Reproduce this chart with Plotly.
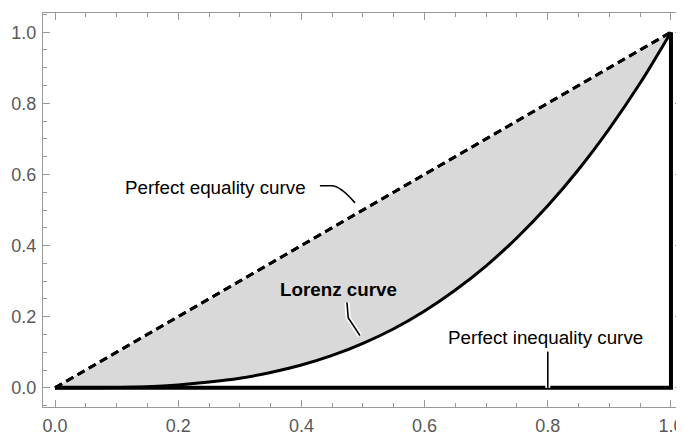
import plotly.graph_objects as go

# values
lorenz_x = [0, 0.05, 0.1, 0.15, 0.2, 0.25, 0.3, 0.35, 0.4, 0.45, 0.5,
            0.55, 0.6, 0.65, 0.7, 0.75, 0.8, 0.85, 0.9, 0.95, 1.0]
lorenz_y = [0, 0.0001, 0.001, 0.003, 0.008, 0.016, 0.027, 0.043, 0.064, 0.091, 0.125,
            0.166, 0.216, 0.275, 0.343, 0.422, 0.512, 0.614, 0.729, 0.857, 1.0]
equality_x = [0, 1]
equality_y = [0, 1]
inequality_x = [0, 1, 1]
inequality_y = [0, 0, 1]
tick_vals = [0, 0.2, 0.4, 0.6, 0.8, 1.0]
tick_text = ["0.0", "0.2", "0.4", "0.6", "0.8", "1.0"]

fig = go.Figure()
fig.add_trace(go.Scatter(x=equality_x, y=equality_y, mode="lines",
                         line=dict(color="black", width=3, dash="8px,5px")))
fig.add_trace(go.Scatter(x=lorenz_x, y=lorenz_y, mode="lines", line_shape="spline",
                         fill="tonexty", fillcolor="#d9d9d9",
                         line=dict(color="black", width=3)))
fig.add_trace(go.Scatter(x=inequality_x, y=inequality_y, mode="lines",
                         line=dict(color="black", width=4)))
# redraw dashed line on top of the fill
fig.add_trace(go.Scatter(x=equality_x, y=equality_y, mode="lines",
                         line=dict(color="black", width=3, dash="8px,5px")))


def callout(path, halo=False):
    if halo:
        fig.add_shape(type="path", path=path, line=dict(color="white", width=5), layer="above")
    fig.add_shape(type="path", path=path, line=dict(color="black", width=1.6), layer="above")


callout("M 0.430,0.568 L 0.449,0.568 Q 0.463,0.568 0.487,0.520")
callout("M 0.474,0.240 L 0.476,0.197 L 0.495,0.147", halo=True)
callout("M 0.80,0.102 L 0.80,0.0", halo=True)

lab_font = dict(family="Liberation Sans, Arial", size=18.8, color="black")
fig.add_annotation(x=0.411, y=0.563, text="Perfect equality curve", showarrow=False,
                   xanchor="right", yanchor="middle", font=lab_font)
fig.add_annotation(x=0.362, y=0.276, text="<b>Lorenz curve</b>", showarrow=False,
                   xanchor="left", yanchor="middle", font=lab_font)
fig.add_annotation(x=0.958, y=0.141, text="Perfect inequality curve", showarrow=False,
                   xanchor="right", yanchor="middle", font=lab_font)

axis_common = dict(
    tickvals=tick_vals, ticktext=tick_text, ticks="inside", ticklen=7, tickwidth=1,
    tickcolor="#999999", showline=True, linecolor="#999999", linewidth=1,
    mirror="allticks", showgrid=False, zeroline=False, automargin=False,
    tickfont=dict(family="Liberation Sans, Arial", size=18, color="#595959"),
    minor=dict(dtick=0.05, ticks="inside", ticklen=4, tickcolor="#999999", showgrid=False),
)
fig.update_xaxes(range=[-0.0195, 1.0179], ticklabelstandoff=2, **axis_common)
fig.update_yaxes(range=[-0.054, 1.054], ticklabelstandoff=2, **axis_common)

# page body adds an 8px offset, so the figure is 8px smaller than the window
fig.update_layout(
    width=676, height=425, showlegend=False,
    plot_bgcolor="white", paper_bgcolor="white",
    margin=dict(l=35, r=2, t=5, b=26),
)
fig.write_html("out.html")
